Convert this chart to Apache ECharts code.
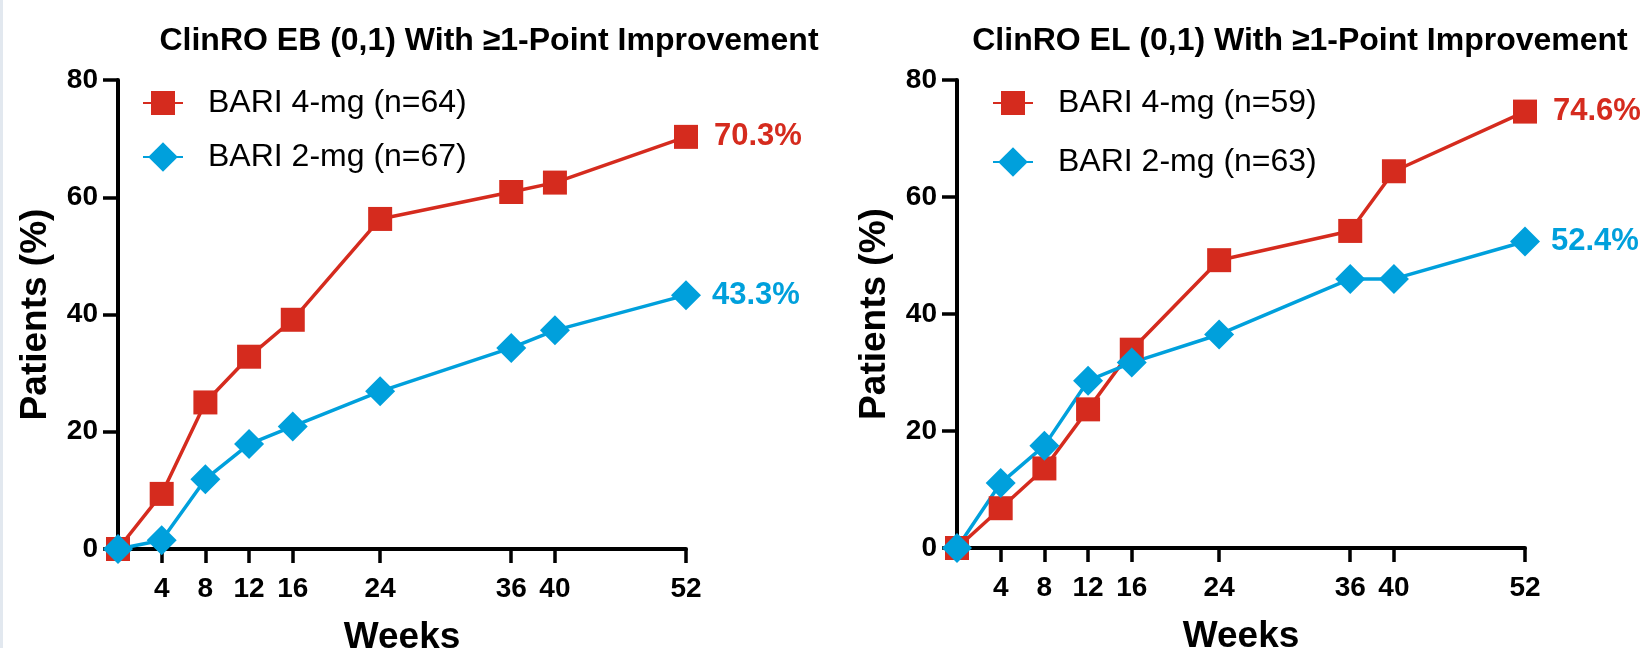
<!DOCTYPE html>
<html>
<head>
<meta charset="utf-8">
<script src="https://cdn.jsdelivr.net/npm/echarts@6/dist/echarts.min.js"></script>
<style>
  html, body { margin: 0; padding: 0; background: #ffffff; }
  #chart { width: 1647px; height: 648px; }
</style>
</head>
<body>
<div id="chart"></div>
<script>
// ---- data ----
const weeks = [0, 4, 8, 12, 16, 24, 36, 40, 52];
const weekTicks = [4, 8, 12, 16, 24, 36, 40, 52];

const ebTitle = 'ClinRO EB (0,1) With \u22651-Point Improvement';
const elTitle = 'ClinRO EL (0,1) With \u22651-Point Improvement';

const ebName4 = 'BARI 4-mg (n=64)';
const ebName2 = 'BARI 2-mg (n=67)';
const elName4 = 'BARI 4-mg (n=59)';
const elName2 = 'BARI 2-mg (n=63)';

const eb4 = [0, 9.4, 25.0, 32.8, 39.1, 56.3, 60.9, 62.5, 70.3];
const eb2 = [0, 1.5, 11.9, 17.9, 20.9, 26.9, 34.3, 37.3, 43.3];
const el4 = [0, 6.8, 13.6, 23.7, 33.9, 49.2, 54.2, 64.4, 74.6];
const el2 = [0, 11.1, 17.5, 28.6, 31.7, 36.5, 46.0, 46.0, 52.4];

// ---- style ----
const RED = '#d52b1e';
const BLUE = '#00a0dc';
const FONT = '"Liberation Sans", Arial, Helvetica, sans-serif';

function toData(vals, color, dist) {
  return weeks.map(function (w, i) {
    const item = { value: [w, vals[i]] };
    if (i === vals.length - 1) {
      item.label = {
        show: true, position: 'right', distance: dist,
        formatter: function (p) { return p.value[1].toFixed(1) + '%'; },
        color: color, fontSize: 31, fontWeight: 'bold', fontFamily: FONT
      };
    }
    return item;
  });
}

function xAxisFor(idx) {
  return {
    gridIndex: idx, type: 'value', min: 0, max: 52,
    name: 'Weeks', nameLocation: 'middle', nameGap: 70,
    nameTextStyle: { fontSize: 37, fontWeight: 'bold', color: '#000', fontFamily: FONT },
    splitLine: { show: false },
    axisLine: { show: true, lineStyle: { color: '#000', width: 4 } },
    axisTick: { show: true, customValues: weekTicks, length: 14, inside: false, lineStyle: { color: '#000', width: 3.5 } },
    axisLabel: { customValues: weekTicks, margin: 26, fontSize: 28, fontWeight: 'bold', color: '#000', fontFamily: FONT }
  };
}
function yAxisFor(idx) {
  return {
    gridIndex: idx, type: 'value', min: 0, max: 80, interval: 20,
    name: 'Patients (%)', nameLocation: 'middle', nameGap: 64, nameRotate: 90,
    nameTextStyle: { fontSize: 37, fontWeight: 'bold', color: '#000', fontFamily: FONT },
    splitLine: { show: false },
    axisLine: { show: true, lineStyle: { color: '#000', width: 4 } },
    axisTick: { show: true, length: 15, inside: false, lineStyle: { color: '#000', width: 3.5 } },
    axisLabel: { margin: 20, fontSize: 28, fontWeight: 'bold', color: '#000', fontFamily: FONT }
  };
}
function seriesFor(name, vals, idx, color, symbol, size, dist) {
  return {
    type: 'line', name: name, xAxisIndex: idx, yAxisIndex: idx,
    data: toData(vals, color, dist),
    symbol: symbol, symbolSize: size, clip: false,
    lineStyle: { color: color, width: 3.5 },
    itemStyle: { color: color },
    emphasis: { disabled: true },
    animation: false
  };
}
function legendFor(name, left, top, h) {
  return {
    data: [name], left: left, top: top, orient: 'vertical', padding: 0,
    itemWidth: 40, itemHeight: h, selectedMode: false,
    textStyle: { fontSize: 32, color: '#000', fontFamily: FONT, padding: [0, 0, 0, 20] }
  };
}

const chart = echarts.init(document.getElementById('chart'), null, { renderer: 'canvas' });
chart.setOption({
  backgroundColor: '#ffffff',
  animation: false,
  graphic: [
    { type: 'rect', shape: { x: 0, y: 0, width: 3, height: 648 }, style: { fill: '#e2e8ef' } },
    { type: 'text', x: 489, y: 41, style: { text: ebTitle, textAlign: 'center', textVerticalAlign: 'middle', fontSize: 32, fontWeight: 'bold', fontFamily: FONT, fill: '#000' } },
    { type: 'text', x: 1300, y: 41, style: { text: elTitle, textAlign: 'center', textVerticalAlign: 'middle', fontSize: 32, fontWeight: 'bold', fontFamily: FONT, fill: '#000' } }
  ],
  grid: [
    { left: 118, top: 80, width: 568, height: 469, containLabel: false, outerBoundsMode: 'none' },
    { left: 957, top: 80, width: 568, height: 468, containLabel: false, outerBoundsMode: 'none' }
  ],
  legend: [
    legendFor(ebName4, 142, 87, 30),
    legendFor(ebName2, 142, 141, 37),
    legendFor(elName4, 992, 87, 30),
    legendFor(elName2, 992, 146, 37)
  ],
  xAxis: [xAxisFor(0), xAxisFor(1)],
  yAxis: [yAxisFor(0), yAxisFor(1)],
  series: [
    seriesFor(ebName4, eb4, 0, RED, 'rect', 24, 16),
    seriesFor(ebName2, eb2, 0, BLUE, 'diamond', 30, 11),
    seriesFor(elName4, el4, 1, RED, 'rect', 24, 16),
    seriesFor(elName2, el2, 1, BLUE, 'diamond', 30, 11)
  ]
});
</script>
</body>
</html>
